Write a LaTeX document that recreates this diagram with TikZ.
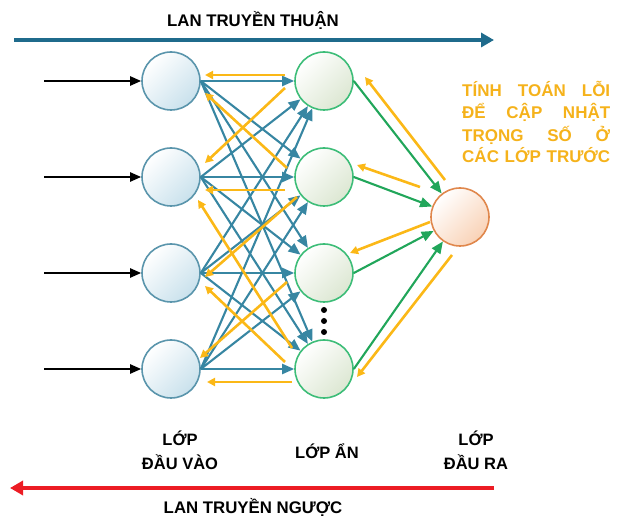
\documentclass[tikz,border=0pt]{standalone}
\usepackage{fontspec}
\setmainfont{Liberation Sans}
\usetikzlibrary{arrows.meta,calc}
\definecolor{cTitleBlue}{HTML}{1F6B8C}
\definecolor{cFwd}{HTML}{3786A2}
\definecolor{cBack}{HTML}{FBB817}
\definecolor{cGreen}{HTML}{21A65A}
\definecolor{cRed}{HTML}{EC1C24}
\definecolor{cOrangeText}{HTML}{F5B21B}
\definecolor{cInB}{HTML}{5A95AC}
\definecolor{cInF}{HTML}{C9E1EC}
\definecolor{cHidB}{HTML}{3DBD78}
\definecolor{cHidF}{HTML}{DCE7D2}
\definecolor{cOutB}{HTML}{E0874C}
\definecolor{cOutF}{HTML}{F9D2B6}
\begin{document}
\begin{tikzpicture}[x=1pt,y=-1pt,
  neuron/.style={circle, minimum size=58pt, inner sep=0pt, line width=1.6pt},
  inneuron/.style={neuron, draw=cInB, top color=white, bottom color=cInF, shading angle=45},
  hidneuron/.style={neuron, draw=cHidB, top color=white, bottom color=cHidF, shading angle=45},
  outneuron/.style={neuron, draw=cOutB, top color=white, bottom color=cOutF, shading angle=45},
  inarrow/.style={draw=black, line width=2.2pt, -{Triangle[length=11pt,width=9pt]}},
  fwd/.style={draw=cFwd, line width=2.1pt, -{Triangle[length=12pt,width=10pt]}},
  back/.style={draw=cBack, line width=2.6pt, -{Triangle[length=8pt,width=8pt]}},
  grn/.style={draw=cGreen, line width=2.1pt, -{Triangle[length=12pt,width=10pt]}},
  lbl/.style={font=\fontsize{16.5}{19}\selectfont\bfseries, text=black, anchor=base, inner sep=0pt},
  ttl/.style={font=\fontsize{16.8}{19}\selectfont\bfseries, text=black, anchor=base, inner sep=0pt},
  note/.style={font=\fontsize{17}{19}\selectfont\bfseries, text=cOrangeText, anchor=base west, inner sep=0pt},
  dotnode/.style={circle, fill=black, inner sep=0pt, minimum size=6pt}
]
\useasboundingbox (0,0) rectangle (624,518);

% neurons
\node[inneuron] (i1) at (171,81) {};
\node[inneuron] (i2) at (171,177) {};
\node[inneuron] (i3) at (171,273) {};
\node[inneuron] (i4) at (171,369) {};
\node[hidneuron] (h1) at (324,81) {};
\node[hidneuron] (h2) at (324,177) {};
\node[hidneuron] (h3) at (324,273) {};
\node[hidneuron] (h4) at (324,369) {};
\node[outneuron] (o) at (460,217) {};

% dots
\node[dotnode] (d1) at (324,310) {};
\node[dotnode] (d2) at (324,321) {};
\node[dotnode] (d3) at (324,332) {};

% input arrows
\foreach \k in {1,...,4} {
  \coordinate (s\k) at ($(i\k.west)+(-97,0)$);
  \draw[inarrow] (s\k) -- (i\k.west);
}

% forward connections input -> hidden
\foreach \a in {1,...,4} {
  \foreach \b in {1,...,4} {
    \draw[fwd] (i\a.east) -- (h\b);
  }
}

% backward (yellow) hidden -> input
\draw[back] ([shift={(-39,-6)}]h1.center) -- ([shift={(34,-6)}]i1.center);
\draw[back] ([shift={(-39,7)}]h1.center) -- ([shift={(34,-14)}]i2.center);
\draw[back] ([shift={(-37,-9)}]h2.center) -- ([shift={(34,12)}]i1.center);
\draw[back] ([shift={(-39,13)}]h2.center) -- ([shift={(34,13)}]i2.center);
\draw[back] ([shift={(-27,20)}]h2.center) -- ([shift={(34,4)}]i3.center);
\draw[back] ([shift={(-32,-21)}]h4.center) -- ([shift={(27,23)}]i2.center);
\draw[back] ([shift={(-39,-7)}]h4.center) -- ([shift={(34,13)}]i3.center);
\draw[back] ([shift={(-37,9)}]h3.center) -- ([shift={(29,-11)}]i4.center);
\draw[back] ([shift={(-32,13)}]h4.center) -- ([shift={(36,13)}]i4.center);

% hidden -> output (green)
\foreach \a in {1,...,4} {
  \draw[grn] (h\a.east) -- (o);
}

% output -> hidden (yellow)
\draw[back] ([shift={(-15,-37)}]o.center) -- ([shift={(41,-4)}]h1.center);
\draw[back] ([shift={(-40,-30)}]o.center) -- ([shift={(33,-12)}]h2.center);
\draw[back] ([shift={(-30,5)}]o.center) -- ([shift={(26,-20)}]h3.center);
\draw[back] ([shift={(-8,38)}]o.center) -- ([shift={(33,8)}]h4.center);

% top arrow and title
\coordinate (ta) at (14,40);
\coordinate (tb) at (494,40);
\draw[draw=cTitleBlue, line width=4.5pt, -{Triangle[length=13pt,width=14pt]}] (ta) -- (tb);
\node[ttl] (ttop) at (253,27) {LAN TRUYỀN THUẬN};

% bottom arrow and title
\coordinate (ba) at (494,488);
\coordinate (bb) at (10,488);
\draw[draw=cRed, line width=4.5pt, -{Triangle[length=13pt,width=14pt]}] (ba) -- (bb);
\node[ttl] (tbot) at (253,513) {LAN TRUYỀN NGƯỢC};

% layer labels
\node[lbl] (l1a) at (180,446) {LỚP};
\node[lbl] (l1b) at (180,469) {ĐẦU VÀO};
\node[lbl] (l2) at (327,458) {LỚP ẨN};
\node[lbl] (l3a) at (476,446) {LỚP};
\node[lbl] (l3b) at (476,469) {ĐẦU RA};

% note text
\node[note] (n1) at (462,97) {\makebox[148pt][s]{TÍNH TOÁN LỖI}};
\node[note] (n2) at (462,119) {\makebox[148pt][s]{ĐỂ CẬP NHẬT}};
\node[note] (n3) at (462,141.5) {\makebox[148pt][s]{TRỌNG SỐ Ở}};
\node[note] (n4) at (462,163) {\makebox[148pt][s]{CÁC LỚP TRƯỚC}};
\end{tikzpicture}
\end{document}
